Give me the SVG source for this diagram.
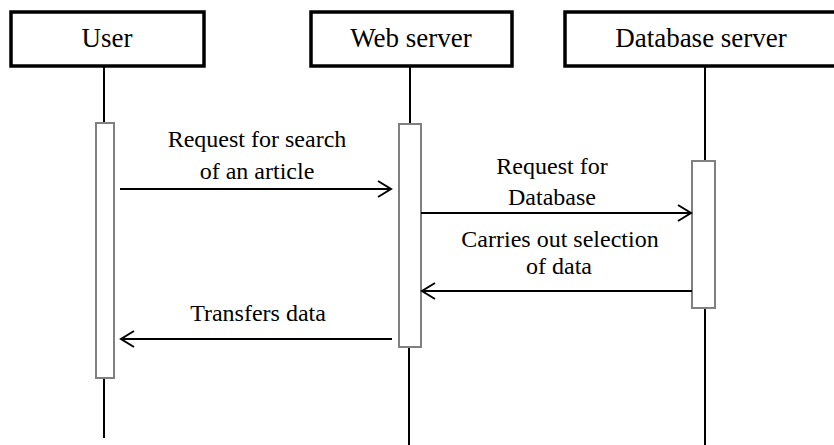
<svg xmlns="http://www.w3.org/2000/svg" width="834" height="445" viewBox="0 0 834 445">
<style>
.head{fill:#fff;stroke:#000;stroke-width:3.5}
.life{stroke:#000;stroke-width:2;fill:none}
.act{fill:#fff;stroke:#808080;stroke-width:2}
.msg{stroke:#000;stroke-width:1.8;fill:none}
.ah{stroke:#000;stroke-width:2;fill:none}
</style>
<rect width="834" height="445" fill="#fff"/>
<g id="user">
<line class="life" x1="104" y1="66" x2="104" y2="123"/>
<line class="life" x1="104" y1="379" x2="104" y2="438"/>
<rect class="head" x="11" y="12" width="193" height="54"/>
<text x="107" y="47" text-anchor="middle" font-family="'Liberation Serif', serif" font-size="27">User</text>
<rect class="act" x="96" y="123" width="18" height="255"/>
</g>
<g id="webserver">
<line class="life" x1="410" y1="66" x2="410" y2="124"/>
<line class="life" x1="409" y1="347" x2="409" y2="445"/>
<rect class="head" x="311" y="12" width="201" height="54"/>
<text x="411" y="47" text-anchor="middle" font-family="'Liberation Serif', serif" font-size="27">Web server</text>
<rect class="act" x="399" y="124" width="22" height="223"/>
</g>
<g id="dbserver">
<line class="life" x1="705" y1="66" x2="705" y2="161"/>
<line class="life" x1="705" y1="308" x2="705" y2="445"/>
<rect class="head" x="565" y="12" width="275" height="54"/>
<text x="701" y="47" text-anchor="middle" font-family="'Liberation Serif', serif" font-size="27">Database server</text>
<rect class="act" x="692" y="161" width="23" height="147"/>
</g>
<g id="connectors">
<line class="msg" x1="120" y1="189" x2="391" y2="189"/>
<polyline class="ah" points="378,181 391,189 378,197"/>
<text x="257" y="147" text-anchor="middle" font-family="'Liberation Serif', serif" font-size="24">Request for search</text>
<text x="257" y="179" text-anchor="middle" font-family="'Liberation Serif', serif" font-size="24">of an article</text>
<line class="msg" x1="421" y1="213" x2="691" y2="213"/>
<polyline class="ah" points="678,205 691,213 678,221"/>
<text x="552" y="174" text-anchor="middle" font-family="'Liberation Serif', serif" font-size="24">Request for</text>
<text x="552" y="205" text-anchor="middle" font-family="'Liberation Serif', serif" font-size="24">Database</text>
<line class="msg" x1="692" y1="291" x2="422" y2="291"/>
<polyline class="ah" points="435,283 422,291 435,299"/>
<text x="560" y="247" text-anchor="middle" font-family="'Liberation Serif', serif" font-size="24">Carries out selection</text>
<text x="559" y="274" text-anchor="middle" font-family="'Liberation Serif', serif" font-size="24">of data</text>
<line class="msg" x1="392" y1="339" x2="121" y2="339"/>
<polyline class="ah" points="134,331 121,339 134,347"/>
<text x="258" y="321" text-anchor="middle" font-family="'Liberation Serif', serif" font-size="24">Transfers data</text>
</g>
</svg>
